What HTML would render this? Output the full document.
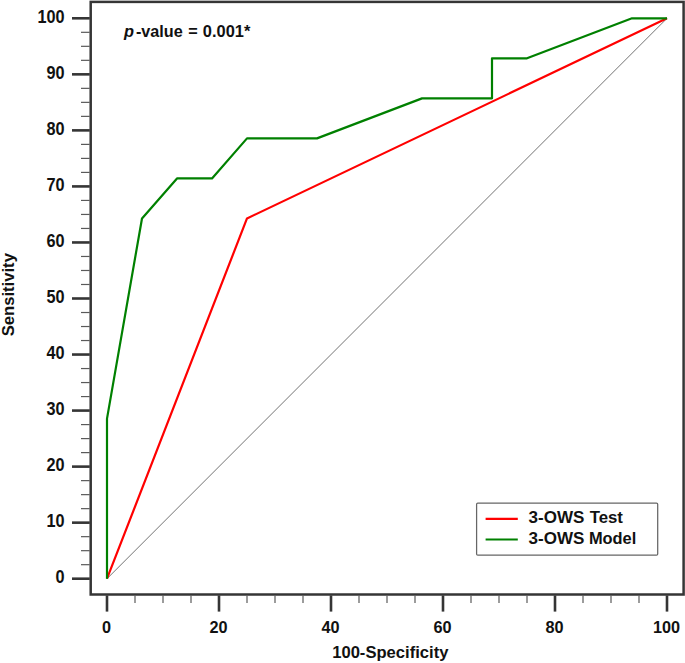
<!DOCTYPE html>
<html><head><meta charset="utf-8"><title>ROC</title>
<style>html,body{margin:0;padding:0;background:#fff;}body{width:685px;height:663px;overflow:hidden;}svg{display:block;}text{font-family:"Liberation Sans",sans-serif;font-weight:bold;font-size:16.8px;fill:#111;}text.tk{font-size:17.3px;}</style>
</head><body>
<svg width="685" height="663" viewBox="0 0 685 663">
<rect x="0" y="0" width="685" height="663" fill="#ffffff"/>
<rect x="90.7" y="1.9" width="592.9" height="592.6" fill="none" stroke="#353535" stroke-width="2.5"/>
<line x1="72" y1="578.70" x2="89.8" y2="578.70" stroke="#353535" stroke-width="2.6"/>
<text class="tk" transform="translate(64.6 583.30) scale(0.94 1.04)" text-anchor="end">0</text>
<line x1="81" y1="564.69" x2="89.8" y2="564.69" stroke="#5a5a5a" stroke-width="1.2"/>
<line x1="81" y1="550.68" x2="89.8" y2="550.68" stroke="#5a5a5a" stroke-width="1.2"/>
<line x1="81" y1="536.67" x2="89.8" y2="536.67" stroke="#5a5a5a" stroke-width="1.2"/>
<line x1="72" y1="522.66" x2="89.8" y2="522.66" stroke="#353535" stroke-width="2.6"/>
<text class="tk" transform="translate(64.6 527.26) scale(0.94 1.04)" text-anchor="end">10</text>
<line x1="81" y1="508.65" x2="89.8" y2="508.65" stroke="#5a5a5a" stroke-width="1.2"/>
<line x1="81" y1="494.64" x2="89.8" y2="494.64" stroke="#5a5a5a" stroke-width="1.2"/>
<line x1="81" y1="480.63" x2="89.8" y2="480.63" stroke="#5a5a5a" stroke-width="1.2"/>
<line x1="72" y1="466.62" x2="89.8" y2="466.62" stroke="#353535" stroke-width="2.6"/>
<text class="tk" transform="translate(64.6 471.22) scale(0.94 1.04)" text-anchor="end">20</text>
<line x1="81" y1="452.61" x2="89.8" y2="452.61" stroke="#5a5a5a" stroke-width="1.2"/>
<line x1="81" y1="438.60" x2="89.8" y2="438.60" stroke="#5a5a5a" stroke-width="1.2"/>
<line x1="81" y1="424.59" x2="89.8" y2="424.59" stroke="#5a5a5a" stroke-width="1.2"/>
<line x1="72" y1="410.58" x2="89.8" y2="410.58" stroke="#353535" stroke-width="2.6"/>
<text class="tk" transform="translate(64.6 415.18) scale(0.94 1.04)" text-anchor="end">30</text>
<line x1="81" y1="396.57" x2="89.8" y2="396.57" stroke="#5a5a5a" stroke-width="1.2"/>
<line x1="81" y1="382.56" x2="89.8" y2="382.56" stroke="#5a5a5a" stroke-width="1.2"/>
<line x1="81" y1="368.55" x2="89.8" y2="368.55" stroke="#5a5a5a" stroke-width="1.2"/>
<line x1="72" y1="354.54" x2="89.8" y2="354.54" stroke="#353535" stroke-width="2.6"/>
<text class="tk" transform="translate(64.6 359.14) scale(0.94 1.04)" text-anchor="end">40</text>
<line x1="81" y1="340.53" x2="89.8" y2="340.53" stroke="#5a5a5a" stroke-width="1.2"/>
<line x1="81" y1="326.52" x2="89.8" y2="326.52" stroke="#5a5a5a" stroke-width="1.2"/>
<line x1="81" y1="312.51" x2="89.8" y2="312.51" stroke="#5a5a5a" stroke-width="1.2"/>
<line x1="72" y1="298.50" x2="89.8" y2="298.50" stroke="#353535" stroke-width="2.6"/>
<text class="tk" transform="translate(64.6 303.10) scale(0.94 1.04)" text-anchor="end">50</text>
<line x1="81" y1="284.49" x2="89.8" y2="284.49" stroke="#5a5a5a" stroke-width="1.2"/>
<line x1="81" y1="270.48" x2="89.8" y2="270.48" stroke="#5a5a5a" stroke-width="1.2"/>
<line x1="81" y1="256.47" x2="89.8" y2="256.47" stroke="#5a5a5a" stroke-width="1.2"/>
<line x1="72" y1="242.46" x2="89.8" y2="242.46" stroke="#353535" stroke-width="2.6"/>
<text class="tk" transform="translate(64.6 247.06) scale(0.94 1.04)" text-anchor="end">60</text>
<line x1="81" y1="228.45" x2="89.8" y2="228.45" stroke="#5a5a5a" stroke-width="1.2"/>
<line x1="81" y1="214.44" x2="89.8" y2="214.44" stroke="#5a5a5a" stroke-width="1.2"/>
<line x1="81" y1="200.43" x2="89.8" y2="200.43" stroke="#5a5a5a" stroke-width="1.2"/>
<line x1="72" y1="186.42" x2="89.8" y2="186.42" stroke="#353535" stroke-width="2.6"/>
<text class="tk" transform="translate(64.6 191.02) scale(0.94 1.04)" text-anchor="end">70</text>
<line x1="81" y1="172.41" x2="89.8" y2="172.41" stroke="#5a5a5a" stroke-width="1.2"/>
<line x1="81" y1="158.40" x2="89.8" y2="158.40" stroke="#5a5a5a" stroke-width="1.2"/>
<line x1="81" y1="144.39" x2="89.8" y2="144.39" stroke="#5a5a5a" stroke-width="1.2"/>
<line x1="72" y1="130.38" x2="89.8" y2="130.38" stroke="#353535" stroke-width="2.6"/>
<text class="tk" transform="translate(64.6 134.98) scale(0.94 1.04)" text-anchor="end">80</text>
<line x1="81" y1="116.37" x2="89.8" y2="116.37" stroke="#5a5a5a" stroke-width="1.2"/>
<line x1="81" y1="102.36" x2="89.8" y2="102.36" stroke="#5a5a5a" stroke-width="1.2"/>
<line x1="81" y1="88.35" x2="89.8" y2="88.35" stroke="#5a5a5a" stroke-width="1.2"/>
<line x1="72" y1="74.34" x2="89.8" y2="74.34" stroke="#353535" stroke-width="2.6"/>
<text class="tk" transform="translate(64.6 78.94) scale(0.94 1.04)" text-anchor="end">90</text>
<line x1="81" y1="60.33" x2="89.8" y2="60.33" stroke="#5a5a5a" stroke-width="1.2"/>
<line x1="81" y1="46.32" x2="89.8" y2="46.32" stroke="#5a5a5a" stroke-width="1.2"/>
<line x1="81" y1="32.31" x2="89.8" y2="32.31" stroke="#5a5a5a" stroke-width="1.2"/>
<line x1="72" y1="18.30" x2="89.8" y2="18.30" stroke="#353535" stroke-width="2.6"/>
<text class="tk" transform="translate(64.6 22.90) scale(0.94 1.04)" text-anchor="end">100</text>
<line x1="107.00" y1="595.4" x2="107.00" y2="611.6" stroke="#353535" stroke-width="2.6"/>
<text class="tk" transform="translate(106.50 633.1) scale(0.94 1)" text-anchor="middle">0</text>
<line x1="135.00" y1="595.4" x2="135.00" y2="603" stroke="#5a5a5a" stroke-width="1.2"/>
<line x1="163.00" y1="595.4" x2="163.00" y2="603" stroke="#5a5a5a" stroke-width="1.2"/>
<line x1="191.00" y1="595.4" x2="191.00" y2="603" stroke="#5a5a5a" stroke-width="1.2"/>
<line x1="219.00" y1="595.4" x2="219.00" y2="611.6" stroke="#353535" stroke-width="2.6"/>
<text class="tk" transform="translate(218.50 633.1) scale(0.94 1)" text-anchor="middle">20</text>
<line x1="247.00" y1="595.4" x2="247.00" y2="603" stroke="#5a5a5a" stroke-width="1.2"/>
<line x1="275.00" y1="595.4" x2="275.00" y2="603" stroke="#5a5a5a" stroke-width="1.2"/>
<line x1="303.00" y1="595.4" x2="303.00" y2="603" stroke="#5a5a5a" stroke-width="1.2"/>
<line x1="331.00" y1="595.4" x2="331.00" y2="611.6" stroke="#353535" stroke-width="2.6"/>
<text class="tk" transform="translate(330.50 633.1) scale(0.94 1)" text-anchor="middle">40</text>
<line x1="359.00" y1="595.4" x2="359.00" y2="603" stroke="#5a5a5a" stroke-width="1.2"/>
<line x1="387.00" y1="595.4" x2="387.00" y2="603" stroke="#5a5a5a" stroke-width="1.2"/>
<line x1="415.00" y1="595.4" x2="415.00" y2="603" stroke="#5a5a5a" stroke-width="1.2"/>
<line x1="443.00" y1="595.4" x2="443.00" y2="611.6" stroke="#353535" stroke-width="2.6"/>
<text class="tk" transform="translate(442.50 633.1) scale(0.94 1)" text-anchor="middle">60</text>
<line x1="471.00" y1="595.4" x2="471.00" y2="603" stroke="#5a5a5a" stroke-width="1.2"/>
<line x1="499.00" y1="595.4" x2="499.00" y2="603" stroke="#5a5a5a" stroke-width="1.2"/>
<line x1="527.00" y1="595.4" x2="527.00" y2="603" stroke="#5a5a5a" stroke-width="1.2"/>
<line x1="555.00" y1="595.4" x2="555.00" y2="611.6" stroke="#353535" stroke-width="2.6"/>
<text class="tk" transform="translate(554.50 633.1) scale(0.94 1)" text-anchor="middle">80</text>
<line x1="583.00" y1="595.4" x2="583.00" y2="603" stroke="#5a5a5a" stroke-width="1.2"/>
<line x1="611.00" y1="595.4" x2="611.00" y2="603" stroke="#5a5a5a" stroke-width="1.2"/>
<line x1="639.00" y1="595.4" x2="639.00" y2="603" stroke="#5a5a5a" stroke-width="1.2"/>
<line x1="667.00" y1="595.4" x2="667.00" y2="611.6" stroke="#353535" stroke-width="2.6"/>
<text class="tk" transform="translate(666.50 633.1) scale(0.94 1)" text-anchor="middle">100</text>
<line x1="107.00" y1="578.70" x2="667.00" y2="18.30" stroke="#3c3c3c" stroke-width="0.72"/>
<polyline fill="none" stroke="#ff0000" stroke-width="2.2" stroke-linejoin="round" stroke-linecap="butt" points="107.00,578.70 247.00,218.44 667.00,18.30"/>
<polyline fill="none" stroke="#008000" stroke-width="2.2" stroke-linejoin="round" stroke-linecap="butt" points="107.00,578.70 107.00,418.59 142.00,218.44 177.00,178.41 212.00,178.41 247.00,138.39 317.00,138.39 422.00,98.36 492.00,98.36 492.00,58.33 527.00,58.33 632.00,18.30 667.00,18.30"/>
<rect x="476.6" y="503.1" width="181.1" height="52" rx="1.2" ry="1.2" fill="#ffffff" stroke="#666666" stroke-width="1.25"/>
<line x1="485.6" y1="518.9" x2="517.8" y2="518.9" stroke="#ff0000" stroke-width="2.2"/>
<line x1="485.6" y1="539.5" x2="517.8" y2="539.5" stroke="#008000" stroke-width="2.2"/>
<text x="528.5" y="523" style="font-size:17.05px">3-OWS</text>
<text x="589.7" y="523">Test</text>
<text x="528.5" y="543.6" style="font-size:17.05px">3-OWS</text>
<text x="588.9" y="543.6" style="font-size:16.4px">Model</text>
<text x="124" y="36.6" style="font-size:16.4px;font-style:italic">p</text>
<text x="135.9" y="36.6" style="font-size:16.2px">-value</text>
<text x="188.3" y="36.6" style="font-size:16.2px">=</text>
<text class="tk" transform="translate(202.8 36.7) scale(0.95 1)">0.001*</text>
<text x="390.3" y="658.3" text-anchor="middle" style="font-size:16.6px">100-Specificity</text>
<text transform="translate(14.3 294.7) rotate(-90)" text-anchor="middle" style="font-size:16.65px">Sensitivity</text>
</svg>
</body></html>
